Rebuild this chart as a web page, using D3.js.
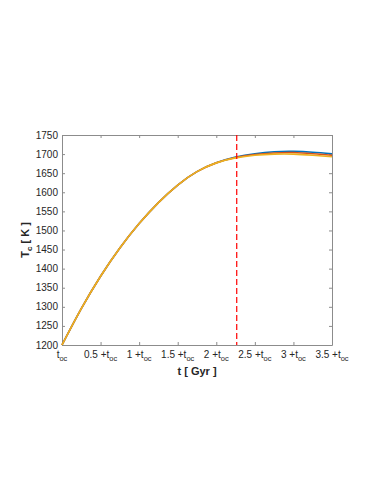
<!DOCTYPE html>
<html>
<head>
<meta charset="utf-8">
<script src="https://cdn.jsdelivr.net/npm/d3@7/dist/d3.min.js"></script>
<style>
  body { margin: 0; background: #fff; }
  text { font-family: "Liberation Sans", Arial, sans-serif; fill: #262626; }
</style>
</head>
<body>
<svg id="chart" width="382" height="494"></svg>
<script>
// time since t_oc, in Gyr
var times = [0, 0.25, 0.5, 0.75, 1.0, 1.25, 1.5, 1.75, 2.0, 2.25, 2.5, 2.75, 3.0, 3.25, 3.5];
// core temperature T_c [K] for the three runs
var tempBlue   = [1200, 1295, 1380, 1454, 1518, 1573, 1619, 1654, 1677, 1692, 1701, 1706, 1707, 1705, 1701];
var tempRed    = [1200, 1295, 1380, 1454, 1518, 1573, 1619, 1654, 1677, 1691, 1699, 1703, 1704, 1701, 1697];
var tempYellow = [1200, 1295, 1380, 1454, 1518, 1573, 1619, 1654, 1677, 1690, 1697, 1700, 1700, 1697, 1693];
var xTicks = [0, 0.5, 1, 1.5, 2, 2.5, 3, 3.5];
var yTicks = [1200, 1250, 1300, 1350, 1400, 1450, 1500, 1550, 1600, 1650, 1700, 1750];
var markerTime = 2.265;

var seriesList = [
    {name: "blue",   color: "#0072bd", values: tempBlue},
    {name: "red",    color: "#d95319", values: tempRed},
    {name: "yellow", color: "#edb120", values: tempYellow}
];

var margin = {left: 62, top: 135, right: 50, bottom: 149};
var svg = d3.select("#chart");
var width = +svg.attr("width") - margin.left - margin.right;
var height = +svg.attr("height") - margin.top - margin.bottom;

var x = d3.scaleLinear().domain([0, 3.5]).range([0, width]);
var y = d3.scaleLinear().domain([1200, 1750]).range([height, 0]);

var g = svg.append("g").attr("transform", "translate(" + margin.left + "," + margin.top + ")");

// axes, ticks pointing inward, box on
var axisColor = "#8c8c8c";
function styleAxis(sel) {
    sel.selectAll("path.domain").attr("stroke", axisColor).attr("stroke-width", 1);
    sel.selectAll(".tick line").attr("stroke", axisColor);
    sel.selectAll(".tick text").remove();
}
g.append("g").attr("transform", "translate(0," + height + ")")
    .call(d3.axisBottom(x).tickValues(xTicks).tickSizeInner(-3).tickSizeOuter(0)).call(styleAxis);
g.append("g")
    .call(d3.axisTop(x).tickValues(xTicks).tickSizeInner(-3).tickSizeOuter(0)).call(styleAxis);
g.append("g")
    .call(d3.axisLeft(y).tickValues(yTicks).tickSizeInner(-3).tickSizeOuter(0)).call(styleAxis);
g.append("g").attr("transform", "translate(" + width + ",0)")
    .call(d3.axisRight(y).tickValues(yTicks).tickSizeInner(-3).tickSizeOuter(0)).call(styleAxis);

// y tick labels
g.selectAll(".ylab").data(yTicks).enter()
    .append("text")
        .attr("class", "ylab")
        .attr("x", -4)
        .attr("y", function(d) { return y(d); })
        .attr("dy", "0.35em")
        .attr("text-anchor", "end")
        .style("font-size", "10px")
        .text(function(d) { return d; });

// x tick labels: "t_oc", "0.5 +t_oc", ...
var xl = g.selectAll(".xlab").data(xTicks).enter()
    .append("text")
        .attr("class", "xlab")
        .attr("x", function(d) { return x(d); })
        .attr("y", height + 13)
        .attr("text-anchor", "middle")
        .style("font-size", "10px");
xl.append("tspan").text(function(d) { return d === 0 ? "t" : d + " +t"; });
xl.append("tspan").attr("dy", 3).style("font-size", "7.5px").text("oc");

// curves
var line = d3.line()
    .x(function(d, i) { return x(times[i]); })
    .y(function(d) { return y(d); })
    .curve(d3.curveNatural);

g.selectAll(".curve").data(seriesList).enter()
    .append("path")
        .attr("class", "curve")
        .attr("fill", "none")
        .attr("stroke", function(d) { return d.color; })
        .attr("stroke-width", 1.6)
        .attr("d", function(d) { return line(d.values); });

// dashed marker
g.append("line")
    .attr("x1", x(markerTime)).attr("x2", x(markerTime))
    .attr("y1", 0).attr("y2", height)
    .attr("stroke", "#ff0000")
    .attr("stroke-width", 1.2)
    .attr("stroke-dasharray", "6,3");

// axis titles
g.append("text")
    .attr("x", width / 2)
    .attr("y", height + 30)
    .attr("text-anchor", "middle")
    .style("font-size", "11px")
    .style("font-weight", "bold")
    .text("t [ Gyr ]");

var yt = g.append("text")
    .attr("transform", "translate(-33," + (height / 2) + ") rotate(-90)")
    .attr("text-anchor", "middle")
    .style("font-size", "11px")
    .style("font-weight", "bold");
yt.append("tspan").text("T");
yt.append("tspan").attr("dy", 3).style("font-size", "8px").text("c");
yt.append("tspan").attr("dy", -3).text(" [ K ]");
</script>
</body>
</html>
